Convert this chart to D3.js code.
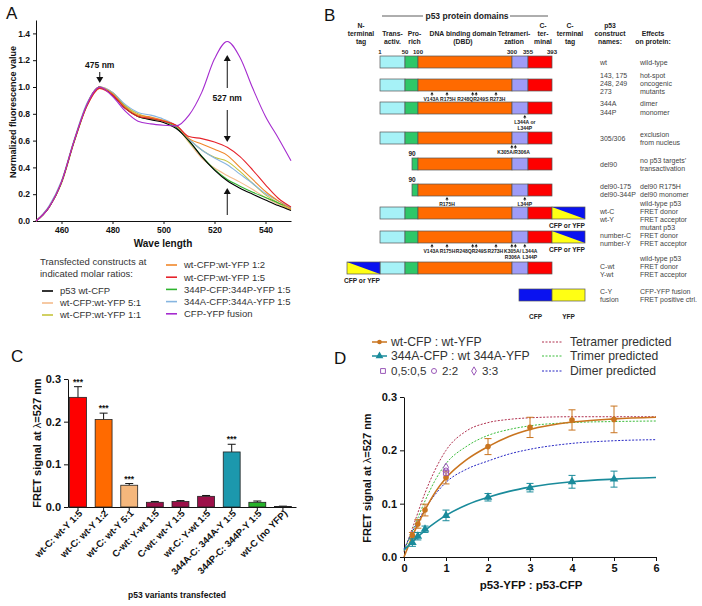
<!DOCTYPE html>
<html>
<head>
<meta charset="utf-8">
<script src="https://cdn.jsdelivr.net/npm/d3@7/dist/d3.min.js"></script>
<style>
  body { margin: 0; background: #fff; }
  svg { display: block; font-family: "Liberation Sans", Arial, Helvetica, sans-serif; }
</style>
</head>
<body>
<svg id="figure" width="702" height="606"></svg>
<script>
// ---------- A: normalized emission spectra ----------
const wavelengths = [450, 455, 460, 465, 470, 475, 480, 485, 490, 495, 500, 505, 510, 515, 520, 525, 530, 535, 540, 545, 550];
const specWtCFP  = [0, 0.10, 0.29, 0.60, 0.87, 1.00, 0.94, 0.84, 0.78, 0.755, 0.735, 0.69, 0.60, 0.48, 0.38, 0.30, 0.245, 0.20, 0.157, 0.115, 0.078];
const specWt51   = [0, 0.10, 0.29, 0.59, 0.86, 1.00, 0.96, 0.86, 0.79, 0.765, 0.745, 0.70, 0.585, 0.47, 0.395, 0.34, 0.29, 0.235, 0.175, 0.125, 0.08];
const specWt11   = [0, 0.10, 0.28, 0.59, 0.86, 0.99, 0.96, 0.86, 0.80, 0.77, 0.75, 0.71, 0.61, 0.53, 0.475, 0.445, 0.37, 0.28, 0.195, 0.135, 0.085];
const specWt12   = [0, 0.10, 0.29, 0.60, 0.87, 1.00, 0.95, 0.85, 0.79, 0.775, 0.75, 0.71, 0.615, 0.575, 0.535, 0.49, 0.40, 0.31, 0.22, 0.15, 0.09];
const specWt15   = [0, 0.10, 0.29, 0.60, 0.86, 0.99, 0.94, 0.84, 0.78, 0.765, 0.745, 0.715, 0.63, 0.615, 0.59, 0.55, 0.48, 0.38, 0.27, 0.17, 0.105];
const spec344P   = [0, 0.10, 0.29, 0.60, 0.87, 1.00, 0.95, 0.85, 0.78, 0.76, 0.745, 0.70, 0.595, 0.485, 0.385, 0.31, 0.26, 0.215, 0.175, 0.135, 0.10];
const spec344A   = [0, 0.11, 0.30, 0.61, 0.88, 1.00, 0.96, 0.87, 0.81, 0.79, 0.76, 0.71, 0.61, 0.53, 0.47, 0.42, 0.35, 0.28, 0.205, 0.15, 0.10];
const specFusion = [0, 0.10, 0.29, 0.60, 0.87, 1.00, 0.93, 0.82, 0.745, 0.725, 0.715, 0.71, 0.79, 0.96, 1.21, 1.34, 1.22, 0.99, 0.78, 0.62, 0.45];
const spectraLabels = ['p53 wt-CFP', 'wt-CFP:wt-YFP 5:1', 'wt-CFP:wt-YFP 1:1', 'wt-CFP:wt-YFP 1:2',
  'wt-CFP:wt-YFP 1:5', '344P-CFP:344P-YFP 1:5', '344A-CFP:344A-YFP 1:5', 'CFP-YFP fusion'];
const spectraTicksX = [460, 480, 500, 520, 540];
const spectraTicksY = [0, 0.2, 0.4, 0.6, 0.8, 1.0, 1.2, 1.4];

// ---------- B: p53 constructs ----------
const domainBounds = [1, 50, 100, 300, 355, 393];
const domainHeaders = [['Trans-', 'activ.'], ['Pro-', 'rich'], ['DNA binding domain', '(DBD)'], ['Tetrameri-', 'zation'], ['C-', 'ter-', 'minal']];
const constructStart = [1, 1, 1, 1, 90, 90, 1, 1, 1, null];
const constructTag = ['', '', '', '', '', '', 'C', 'C', 'N', 'fusion'];
const constructNames = [['wt'], ['143, 175', '248, 249', '273'], ['344A', '344P'], ['305/306'], ['del90'],
  ['del90-175', 'del90-344P'], ['', 'wt-C', 'wt-Y'], ['', 'number-C', 'number-Y'], ['', 'C-wt', 'Y-wt'], ['C-Y', 'fusion']];
const constructEffects = [['wild-type'], ['hot-spot', 'oncogenic', 'mutants'], ['dimer', 'monomer'], ['exclusion', 'from nucleus'],
  ['no p53 targets\u2019', 'transactivation'], ['del90 R175H', 'del90 monomer'], ['wild-type p53', 'FRET donor', 'FRET acceptor'],
  ['mutant p53', 'FRET donor', 'FRET acceptor'], ['wild-type p53', 'FRET donor', 'FRET acceptor'], ['CFP-YFP fusion', 'FRET positive ctrl.']];
const constructMutations = [
  [],
  [{ res: [143], lines: ['V143A'] }, { res: [175], lines: ['R175H'] }, { res: [248, 249], lines: ['R248QR249S'] }, { res: [273], lines: ['R273H'] }],
  [{ res: [344], lines: ['L344A or', 'L344P'] }],
  [{ res: [305, 306], lines: ['K305A/R306A'] }],
  [],
  [{ res: [175], lines: ['R175H'] }, { res: [344], lines: ['L344P'] }],
  [],
  [{ res: [143], lines: ['V143A'] }, { res: [175], lines: ['R175H'] }, { res: [248, 249], lines: ['R248QR249S'] }, { res: [273], lines: ['R273H'] },
   { res: [305, 306], lines: ['K305A/', 'R306A'] }, { res: [344], lines: ['L344A', 'L344P'] }],
  [],
  []
];

// ---------- C: FRET signal bars ----------
const fretLabels = ['wt-C: wt-Y 1:5', 'wt-C: wt-Y 1:2', 'wt-C: wt-Y 5:1', 'C-wt: Y-wt 1:5', 'C-wt: wt-Y 1:5',
  'wt-C: Y-wt 1:5', '344A-C: 344A-Y 1:5', '344P-C: 344P-Y 1:5', 'wt-C (no YFP)'];
const fretMean = [0.257, 0.205, 0.051, 0.011, 0.013, 0.025, 0.129, 0.011, 0.001];
const fretErr = [0.025, 0.015, 0.004, 0.002, 0.002, 0.002, 0.018, 0.003, 0.001];
const fretSignif = ['***', '***', '***', '', '', '', '***', '', ''];

// ---------- D: titration ----------
const ratioX = [0.2, 0.33, 0.5, 1, 2, 3, 4, 5];
const wtMean = [0.04, 0.062, 0.088, 0.149, 0.207, 0.243, 0.257, 0.258];
const wtErr = [0.006, 0.008, 0.011, 0.012, 0.015, 0.019, 0.019, 0.025];
const a344Mean = [0.027, 0.039, 0.052, 0.078, 0.112, 0.130, 0.141, 0.146];
const a344Err = [0.007, 0.007, 0.006, 0.010, 0.007, 0.008, 0.012, 0.015];
const fitX = [0, 0.25, 0.5, 0.75, 1, 1.5, 2, 2.5, 3, 4, 5, 6];
const wtFit = [0, 0.048, 0.088, 0.122, 0.148, 0.183, 0.207, 0.226, 0.239, 0.253, 0.259, 0.262];
const a344Fit = [0.013, 0.032, 0.05, 0.065, 0.078, 0.098, 0.112, 0.123, 0.131, 0.141, 0.146, 0.149];
const tetramerPred = [0.01, 0.065, 0.12, 0.165, 0.2, 0.237, 0.252, 0.258, 0.261, 0.263, 0.263, 0.263];
const trimerPred = [0.012, 0.058, 0.105, 0.145, 0.175, 0.208, 0.228, 0.239, 0.246, 0.252, 0.254, 0.255];
const dimerPred = [0.015, 0.055, 0.09, 0.118, 0.14, 0.165, 0.18, 0.193, 0.202, 0.213, 0.218, 0.22];
const equiLabels = ['0,5:0,5', '2:2', '3:3'];
const equiValues = [0.158, 0.162, 0.168];

const svg = d3.select('#figure');

function styleAxis(g, size) {
  g.selectAll('path, line').attr('stroke', '#111').attr('stroke-width', 1);
  g.selectAll('text').attr('font-size', size).attr('font-weight', 'bold').attr('fill', '#111');
}

// panel letters
[['A', 6, 19], ['B', 324, 21], ['C', 11, 362], ['D', 334, 364]].forEach(([t, x, y]) => {
  svg.append('text').attr('x', x).attr('y', y).attr('font-size', 17).attr('fill', '#111').text(t);
});

// ================= PANEL A =================
(function () {
  const x = d3.scaleLinear().domain([450, 550]).range([36, 291]);
  const y = d3.scaleLinear().domain([0, 1.5]).range([221, 20]);
  const g = svg.append('g');
  const colors = ['#000000', '#f4bb8c', '#c6c43c', '#f0872a', '#e6232b', '#2eb42e', '#86b5e0', '#a52bcf'];
  const series = [specWtCFP, specWt51, specWt11, specWt12, specWt15, spec344P, spec344A, specFusion];
  const order = [1, 2, 5, 0, 6, 3, 4, 7];

  g.append('g').attr('transform', 'translate(0,221)')
    .call(d3.axisBottom(x).tickValues(spectraTicksX).tickSize(3).tickSizeOuter(0).tickPadding(3))
    .call(a => styleAxis(a, 8.5));
  g.append('g').attr('transform', 'translate(36,0)')
    .call(d3.axisLeft(y).tickValues(spectraTicksY).tickFormat(d3.format('.1f')).tickSize(3).tickSizeOuter(0).tickPadding(3))
    .call(a => styleAxis(a, 8.5));

  const line = d3.line().x((d, i) => x(wavelengths[i])).y(d => y(d)).curve(d3.curveMonotoneX);
  order.forEach(k => {
    g.append('path').datum(series[k]).attr('d', line).attr('fill', 'none')
      .attr('stroke', colors[k]).attr('stroke-width', 1.1);
  });

  g.append('text').attr('transform', 'translate(16,112) rotate(-90)').attr('text-anchor', 'middle')
    .attr('font-size', 9).attr('font-weight', 'bold').attr('fill', '#111').text('Normalized fluorescence value');
  g.append('text').attr('x', 163).attr('y', 247).attr('text-anchor', 'middle')
    .attr('font-size', 10).attr('font-weight', 'bold').attr('fill', '#111').text('Wave length');

  // annotation arrows
  function arrow(xx, y0, y1) {
    const dir = y1 > y0 ? 1 : -1;
    g.append('line').attr('x1', xx).attr('x2', xx).attr('y1', y0).attr('y2', y1 - dir * 5)
      .attr('stroke', '#111').attr('stroke-width', 1);
    g.append('path').attr('d', `M${xx - 3.5},${y1 - dir * 6}L${xx + 3.5},${y1 - dir * 6}L${xx},${y1}Z`).attr('fill', '#111');
  }
  const xa = x(475), xb = x(525);
  g.append('text').attr('x', xa).attr('y', 68).attr('text-anchor', 'middle').attr('font-size', 8.5)
    .attr('font-weight', 'bold').attr('fill', '#111').text('475 nm');
  arrow(xa, 72, 83);
  g.append('text').attr('x', xb).attr('y', 101).attr('text-anchor', 'middle').attr('font-size', 8.5)
    .attr('font-weight', 'bold').attr('fill', '#111').text('527 nm');
  arrow(xb, 88, 55);
  arrow(xb, 110, 142);
  arrow(xb, 215, 188);

  // legend
  g.append('text').attr('x', 40).attr('y', 265).attr('font-size', 9.5).attr('fill', '#333').text('Transfected constructs at');
  g.append('text').attr('x', 40).attr('y', 277).attr('font-size', 9.5).attr('fill', '#333').text('indicated molar ratios:');
  spectraLabels.forEach((lab, i) => {
    const left = i < 3;
    const lx = left ? 42 : 166;
    const ly = left ? 291 + i * 12 : 265 + (i - 3) * 12.2;
    g.append('line').attr('x1', lx).attr('x2', lx + 11).attr('y1', ly).attr('y2', ly)
      .attr('stroke', colors[i]).attr('stroke-width', 1.6);
    g.append('text').attr('x', lx + 18).attr('y', ly + 3.3).attr('font-size', 9.5).attr('fill', '#333').text(lab);
  });
})();

// ================= PANEL B =================
(function () {
  const g = svg.append('g');
  const resX = d3.scaleLinear()
    .domain([1, 50, 90, 100, 143, 175, 248, 273, 300, 355, 393])
    .range([380, 405, 412, 418, 432, 447, 474, 496, 512, 528, 552]);
  const domainColors = ['#a6f2f7', '#2ec768', '#ff6a00', '#9f9cf7', '#fe0000'];
  const cfp = '#0a12f0', yfp = '#ffff14';
  const barH = 12, tagW = 33;
  const txt = (xx, yy, s, size, bold, anchor, fill) => g.append('text').attr('x', xx).attr('y', yy)
    .attr('font-size', size).attr('font-weight', bold ? 'bold' : 'normal')
    .attr('text-anchor', anchor || 'middle').attr('fill', fill || '#222').text(s);

  // headers
  txt(467, 19, 'p53 protein domains', 8.5, true);
  g.append('line').attr('x1', 382).attr('x2', 423).attr('y1', 16).attr('y2', 16).attr('stroke', '#333').attr('stroke-width', 0.8);
  g.append('line').attr('x1', 510).attr('x2', 548).attr('y1', 16).attr('y2', 16).attr('stroke', '#333').attr('stroke-width', 0.8);
  const nudge = [0, 3, -2, -6, 3];
  domainHeaders.forEach((lines, i) => {
    const cx = (resX(domainBounds[i]) + resX(domainBounds[i + 1])) / 2 + nudge[i];
    lines.forEach((s, j) => txt(cx, 44 - (lines.length - 1 - j) * 8, s, 6.8, true));
  });
  [['N-', 'terminal', 'tag'], ['C-', 'terminal', 'tag'], ['p53', 'construct', 'names:'], ['Effects', 'on protein:']]
    .forEach((lines, i) => {
      const cx = [361, 570, 610, 653][i];
      lines.forEach((s, j) => txt(cx, 44 - (lines.length - 1 - j) * 8, s, 6.8, true));
    });
  domainBounds.forEach(b => txt(resX(b), 54, b, 6, true));

  // rows
  let top = 56;
  constructStart.forEach((start, i) => {
    const tag = constructTag[i];
    const muts = constructMutations[i];
    const cy = top + barH / 2;
    const bottom = top + barH;
    const row = g.append('g');

    if (start !== null) {
      if (start > 1) txt(resX(start), top - 2.5, start, 6.5, true);
      domainColors.forEach((c, k) => {
        const a = Math.max(domainBounds[k], start), b = domainBounds[k + 1];
        if (b <= a) return;
        row.append('rect').attr('x', resX(a)).attr('y', top).attr('width', resX(b) - resX(a)).attr('height', barH)
          .attr('fill', c).attr('stroke', '#555').attr('stroke-width', 0.7);
      });
    }
    const drawTag = (x0) => {
      row.append('rect').attr('x', x0).attr('y', top).attr('width', tagW).attr('height', barH).attr('fill', cfp);
      row.append('path').attr('d', `M${x0},${top}L${x0},${bottom}L${x0 + tagW},${bottom}Z`).attr('fill', yfp);
      row.append('rect').attr('x', x0).attr('y', top).attr('width', tagW).attr('height', barH)
        .attr('fill', 'none').attr('stroke', '#555').attr('stroke-width', 0.7);
      txt(x0 + tagW, bottom + 8.5, 'CFP or YFP', 6.6, true, 'end');
    };
    if (tag === 'C') drawTag(resX(393));
    if (tag === 'N') drawTag(resX(1) - tagW);
    if (tag === 'fusion') {
      const x0 = resX(393) - tagW;
      [[x0, cfp, 'CFP'], [x0 + tagW, yfp, 'YFP']].forEach(([xx, c, s]) => {
        row.append('rect').attr('x', xx).attr('y', top).attr('width', tagW).attr('height', barH)
          .attr('fill', c).attr('stroke', '#555').attr('stroke-width', 0.7);
        txt(xx + tagW / 2, bottom + 18, s, 6.5, true);
      });
    }

    // mutation markers with simple label de-overlap
    const centers = muts.map(m => d3.mean(m.res, r => resX(r)));
    const labels = muts.map((m, k) => {
      const c = centers[k];
      const xs = m.res.map((r, j) => c + (j - (m.res.length - 1) / 2) * 3.5);
      xs.forEach(xx => {
        row.append('path').attr('d', `M${xx},${bottom + 1}L${xx - 1.6},${bottom + 3.4}L${xx + 1.6},${bottom + 3.4}Z`).attr('fill', '#111');
        row.append('line').attr('x1', xx).attr('x2', xx).attr('y1', bottom + 3).attr('y2', bottom + 5).attr('stroke', '#111').attr('stroke-width', 0.6);
      });
      const nodes = m.lines.map((s, j) => txt(c, bottom + 9.5 + j * 6, s, 5, true, 'middle', '#222'));
      const w = d3.max(nodes, n => n.node().getComputedTextLength());
      return { nodes, w, x: c };
    });
    for (let pass = 0; pass < 4; pass++) {
      for (let k = 1; k < labels.length; k++) {
        const a = labels[k - 1], b = labels[k];
        const ov = (a.x + a.w / 2 + 1.2) - (b.x - b.w / 2);
        if (ov > 0) { a.x -= ov / 2; b.x += ov / 2; }
      }
    }
    labels.forEach(l => l.nodes.forEach(n => n.attr('x', l.x)));

    // names and effects
    const names = constructNames[i], effects = constructEffects[i];
    const sp = i === 2 ? 9 : 8;
    const off = names.length === 3 ? -2 : 0;
    names.forEach((s, j) => txt(600, cy + off + (j - (names.length - 1) / 2) * sp + 2.5, s, 7, false, 'start', '#444'));
    effects.forEach((s, j) => txt(640, cy + off + (j - (effects.length - 1) / 2) * sp + 2.5, s, 7, false, 'start', '#444'));

    // next row position
    if (i + 1 < constructStart.length) {
      const lines = d3.max(muts, m => m.lines.length) || 0;
      const next = constructStart[i + 1];
      top += 23 + (lines > 1 ? 7 : 0) + (next > 1 ? 3 : 0) + (tag === 'C' || tag === 'N' ? 1 : 0)
        + (constructTag[i + 1] === 'fusion' ? 3 : 0);
    }
  });
})();

// ================= PANEL C =================
(function () {
  const g = svg.append('g');
  const x = d3.scaleBand().domain(fretLabels).range([68, 296]).paddingInner(0.34).paddingOuter(0.12).align(0.25);
  const y = d3.scaleLinear().domain([0, 0.3]).range([507, 379]);
  const colors = ['#fe0000', '#ff6a00', '#f5b77c', '#9c1049', '#9c1049', '#9c1049', '#1c98ad', '#25b22a', '#333333'];

  g.append('g').attr('transform', 'translate(0,507)')
    .call(d3.axisBottom(x).tickSize(4).tickSizeOuter(0).tickFormat(''))
    .call(a => styleAxis(a, 10));
  g.append('g').attr('transform', 'translate(68,0)')
    .call(d3.axisLeft(y).ticks(3).tickFormat(d3.format('.1f')).tickSize(4).tickSizeOuter(0).tickPadding(3))
    .call(a => styleAxis(a, 11));

  fretLabels.forEach((lab, i) => {
    const bx = x(lab), bw = x.bandwidth(), cx = bx + bw / 2;
    const top = y(fretMean[i]), errTop = y(fretMean[i] + fretErr[i]);
    g.append('line').attr('x1', cx).attr('x2', cx).attr('y1', top).attr('y2', errTop).attr('stroke', '#111').attr('stroke-width', 1);
    g.append('line').attr('x1', cx - 4).attr('x2', cx + 4).attr('y1', errTop).attr('y2', errTop).attr('stroke', '#111').attr('stroke-width', 1);
    g.append('rect').attr('x', bx).attr('y', top).attr('width', bw).attr('height', y(0) - top)
      .attr('fill', colors[i]).attr('stroke', '#222').attr('stroke-width', 0.8);
    if (fretSignif[i]) {
      g.append('text').attr('x', cx).attr('y', errTop - 2).attr('text-anchor', 'middle')
        .attr('font-size', 8.5).attr('font-weight', 'bold').attr('fill', '#111').text(fretSignif[i]);
    }
    g.append('text').attr('transform', `translate(${cx + 5},${514}) rotate(-45)`).attr('text-anchor', 'end')
      .attr('font-size', 9.5).attr('font-weight', 'bold').attr('fill', '#111').text(lab);
  });

  const yl = g.append('text').attr('transform', 'translate(41,443) rotate(-90)').attr('text-anchor', 'middle')
    .attr('font-size', 11).attr('font-weight', 'bold').attr('fill', '#111');
  yl.append('tspan').text('FRET signal at ');
  yl.append('tspan').attr('font-weight', 'normal').text('\u03bb');
  yl.append('tspan').text('=527 nm');
  g.append('text').attr('x', 177).attr('y', 598).attr('text-anchor', 'middle')
    .attr('font-size', 8.5).attr('font-weight', 'bold').attr('fill', '#111').text('p53 variants transfected');
})();

// ================= PANEL D =================
(function () {
  const g = svg.append('g');
  const x = d3.scaleLinear().domain([0, 6]).range([404, 656]);
  const y = d3.scaleLinear().domain([0, 0.3]).range([557, 397]);
  const cWt = '#c9741f', cA = '#1a8b9b', cTet = '#b0304e', cTri = '#3bbd3b', cDim = '#2727c4', cEq = '#9a58b8';

  g.append('g').attr('transform', 'translate(0,557)')
    .call(d3.axisBottom(x).ticks(6).tickSize(4).tickSizeOuter(0).tickPadding(3))
    .call(a => styleAxis(a, 11));
  g.append('g').attr('transform', 'translate(404,0)')
    .call(d3.axisLeft(y).ticks(3).tickFormat(d3.format('.1f')).tickSize(4).tickSizeOuter(0).tickPadding(3))
    .call(a => styleAxis(a, 11));

  const line = d3.line().x((d, i) => x(fitX[i])).y(d => y(d)).curve(d3.curveMonotoneX);
  [[tetramerPred, cTet], [trimerPred, cTri], [dimerPred, cDim]].forEach(([s, c]) => {
    g.append('path').datum(s).attr('d', line).attr('fill', 'none').attr('stroke', c)
      .attr('stroke-width', 1).attr('stroke-dasharray', '2,1.5');
  });
  [[wtFit, cWt], [a344Fit, cA]].forEach(([s, c]) => {
    g.append('path').datum(s).attr('d', line).attr('fill', 'none').attr('stroke', c).attr('stroke-width', 1.6);
  });

  const tri = d3.symbol().type(d3.symbolTriangle).size(32);
  [[wtMean, wtErr, cWt, 'c'], [a344Mean, a344Err, cA, 't']].forEach(([m, e, c, shape]) => {
    ratioX.forEach((rx, i) => {
      const cx = x(rx), y0 = y(m[i] - e[i]), y1 = y(m[i] + e[i]);
      g.append('line').attr('x1', cx).attr('x2', cx).attr('y1', y0).attr('y2', y1).attr('stroke', c).attr('stroke-width', 1);
      [y0, y1].forEach(yy => g.append('line').attr('x1', cx - 3.5).attr('x2', cx + 3.5).attr('y1', yy).attr('y2', yy)
        .attr('stroke', c).attr('stroke-width', 1));
      if (shape === 'c') g.append('circle').attr('cx', cx).attr('cy', y(m[i])).attr('r', 2.8).attr('fill', c);
      else g.append('path').attr('d', tri).attr('transform', `translate(${cx},${y(m[i])})`).attr('fill', c);
    });
  });

  const eqSym = [d3.symbolSquare, d3.symbolCircle, d3.symbolDiamond];
  const eqSize = [26, 22, 22];
  equiValues.forEach((v, i) => {
    g.append('path').attr('d', d3.symbol().type(eqSym[i]).size(eqSize[i])).attr('transform', `translate(${x(1)},${y(v)})`)
      .attr('fill', 'none').attr('stroke', cEq).attr('stroke-width', 1);
  });

  const yl = g.append('text').attr('transform', 'translate(371,478) rotate(-90)').attr('text-anchor', 'middle')
    .attr('font-size', 11).attr('font-weight', 'bold').attr('fill', '#111');
  yl.append('tspan').text('FRET signal at ');
  yl.append('tspan').attr('font-weight', 'normal').text('\u03bb');
  yl.append('tspan').text('=527 nm');
  g.append('text').attr('x', 531).attr('y', 589).attr('text-anchor', 'middle')
    .attr('font-size', 11.5).attr('font-weight', 'bold').attr('fill', '#111').text('p53-YFP : p53-CFP');

  // legend
  const lt = (xx, yy, s, size) => g.append('text').attr('x', xx).attr('y', yy + 4.2).attr('font-size', size || 12.2).attr('fill', '#333').text(s);
  g.append('line').attr('x1', 372).attr('x2', 387).attr('y1', 342).attr('y2', 342).attr('stroke', cWt).attr('stroke-width', 1.5);
  g.append('circle').attr('cx', 379.5).attr('cy', 342).attr('r', 2.3).attr('fill', cWt);
  lt(391, 342, 'wt-CFP : wt-YFP');
  g.append('line').attr('x1', 372).attr('x2', 387).attr('y1', 356).attr('y2', 356).attr('stroke', cA).attr('stroke-width', 1.5);
  g.append('path').attr('d', d3.symbol().type(d3.symbolTriangle).size(26)).attr('transform', 'translate(379.5,356)').attr('fill', cA);
  lt(391, 356, '344A-CFP : wt 344A-YFP');
  const eqX = [383, 434, 474];
  equiLabels.forEach((s, i) => {
    g.append('path').attr('d', d3.symbol().type(eqSym[i]).size(eqSize[i] * 0.9)).attr('transform', `translate(${eqX[i]},371)`)
      .attr('fill', 'none').attr('stroke', cEq).attr('stroke-width', 1);
    lt(eqX[i] + 8, 371, s, 11.6);
  });
  [['Tetramer predicted', cTet], ['Trimer predicted', cTri], ['Dimer predicted', cDim]].forEach(([s, c], i) => {
    const yy = [342, 356, 371][i];
    g.append('line').attr('x1', 542).attr('x2', 562).attr('y1', yy).attr('y2', yy).attr('stroke', c)
      .attr('stroke-width', 1).attr('stroke-dasharray', '2,1.5');
    lt(570, yy, s);
  });
})();
</script>
</body>
</html>
